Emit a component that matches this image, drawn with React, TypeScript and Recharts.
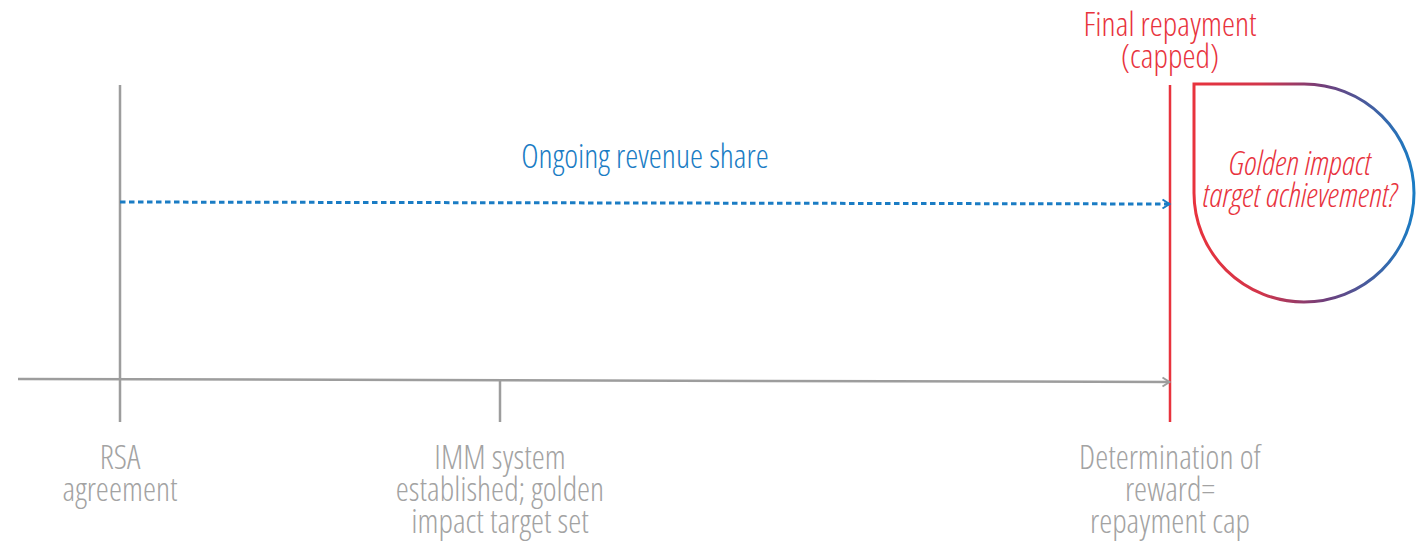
import React from 'react';
import {
  ComposedChart,
  Line,
  Scatter,
  XAxis,
  YAxis,
  ReferenceLine,
  ReferenceArea,
  ReferenceDot,
} from 'recharts';

// timeline data (time units, 0 = RSA agreement)
const milestoneTimes = [0, 38, 105];
const milestoneLabels = [
  ['RSA', 'agreement'],
  ['IMM system', 'established; golden', 'impact target set'],
  ['Determination of', 'reward=', 'repayment cap'],
];
const revenueShareLabel = ['Ongoing revenue share'];
const finalLabel = ['Final repayment', '(capped)'];
const goldenLabel = ['Golden impact', 'target achievement?'];

const W = 1422;
const H = 543;
const GRAY = '#9d9d9d';
const TEXT_GRAY = '#a3a3a3';
const RED = '#e8333d';
const BLUE = '#1a7cc4';
const FONT = '"Open Sans", sans-serif';
const FS = 33;
const LINE_H = 32;

// vertical levels (y axis runs top to bottom)
const TOP = 8.5;
const AXIS_Y = 37.9;
const BOTTOM = 42.2;
const SHARE_Y = 20.2;

const start = milestoneTimes[0];
const end = milestoneTimes[milestoneTimes.length - 1];

const axisData = [
  { t: start - 10.2, y: AXIS_Y },
  { t: end, y: AXIS_Y + 0.3 },
];
const shareData = [
  { t: start, y: SHARE_Y },
  { t: end, y: SHARE_Y + 0.2 },
];

const labelPoints = milestoneTimes.map((t, i) => ({ t, y: 46.9, lines: milestoneLabels[i] }));
const sharePoint = [{ t: (start + end) / 2, y: 16.8, lines: revenueShareLabel }];
const finalPoint = [{ t: end, y: 3.6, lines: finalLabel }];
const goldenPoint = [{ t: 118.0, y: 17.5, lines: goldenLabel }];

const textShape = (color: string, italic = false) => (props: any) => {
  const { cx, cy, payload } = props;
  return (
    <text
      x={cx}
      y={cy}
      textAnchor="middle"
      fill={color}
      fontFamily={FONT}
      fontWeight={300}
      fontSize={FS}
      fontStyle={italic ? 'italic' : 'normal'}
      style={{ fontStretch: 'condensed' }}
    >
      {payload.lines.map((l: string, i: number) => (
        <tspan key={i} x={cx} dy={i === 0 ? 0 : LINE_H}>
          {l}
        </tspan>
      ))}
    </text>
  );
};

const chevron = (color: string) => (props: any) => {
  const { cx, cy } = props;
  return (
    <path
      d={`M${cx - 7},${cy - 4.5} L${cx},${cy} L${cx - 7},${cy + 4.5}`}
      fill="none"
      stroke={color}
      strokeWidth={2}
    />
  );
};

const DropShape = (props: any) => {
  const { x, y, width, height } = props;
  const rx = width / 2;
  const ry = height / 2;
  const d = `M${x},${y} H${x + rx} A${rx},${ry} 0 1 1 ${x},${y + ry} Z`;
  return <path d={d} fill="none" stroke="url(#dropGrad)" strokeWidth={3} />;
};

const App = () => {
  return (
    <div style={{ position: 'absolute', left: 0, top: 0, width: W, height: H, background: '#fff' }}>
      <svg width={0} height={0} style={{ position: 'absolute' }}>
        <defs>
          <linearGradient id="dropGrad" x1="0" y1="0" x2="1" y2="0">
            <stop offset="0%" stopColor={RED} />
            <stop offset="30%" stopColor="#d2354a" />
            <stop offset="60%" stopColor="#6e3f7c" />
            <stop offset="100%" stopColor={BLUE} />
          </linearGradient>
        </defs>
      </svg>
      <ComposedChart width={W} height={H} margin={{ top: 0, right: 0, bottom: 0, left: 0 }}>
        <XAxis type="number" dataKey="t" domain={[-12, 130.2]} allowDataOverflow hide />
        <YAxis type="number" dataKey="y" domain={[0, 54.3]} reversed allowDataOverflow hide />

        <ReferenceLine
          segment={[{ x: milestoneTimes[0], y: TOP }, { x: milestoneTimes[0], y: BOTTOM }]}
          stroke={GRAY}
          strokeWidth={2.5}
        />
        <ReferenceLine
          segment={[{ x: milestoneTimes[1], y: AXIS_Y + 0.1 }, { x: milestoneTimes[1], y: BOTTOM }]}
          stroke={GRAY}
          strokeWidth={2.5}
        />

        <Line
          data={axisData}
          dataKey="y"
          type="linear"
          stroke={GRAY}
          strokeWidth={2.5}
          dot={false}
          activeDot={false}
          isAnimationActive={false}
        />
        <Line
          data={shareData}
          dataKey="y"
          type="linear"
          stroke={BLUE}
          strokeWidth={3}
          strokeDasharray="5.5 3.5"
          dot={false}
          activeDot={false}
          isAnimationActive={false}
        />
        <ReferenceDot x={end - 0.05} y={AXIS_Y + 0.3} r={4} shape={chevron(GRAY)} />
        <ReferenceDot x={end - 0.05} y={SHARE_Y + 0.2} r={4} shape={chevron(BLUE)} />

        <ReferenceLine
          segment={[{ x: end, y: TOP }, { x: end, y: BOTTOM }]}
          stroke={RED}
          strokeWidth={2.5}
        />

        <ReferenceArea x1={107.4} x2={129.4} y1={8.4} y2={30.2} shape={DropShape} />

        <Scatter data={labelPoints} shape={textShape(TEXT_GRAY)} isAnimationActive={false} />
        <Scatter data={sharePoint} shape={textShape(BLUE)} isAnimationActive={false} />
        <Scatter data={finalPoint} shape={textShape(RED)} isAnimationActive={false} />
        <Scatter data={goldenPoint} shape={textShape(RED, true)} isAnimationActive={false} />
      </ComposedChart>
    </div>
  );
};

export default App;
